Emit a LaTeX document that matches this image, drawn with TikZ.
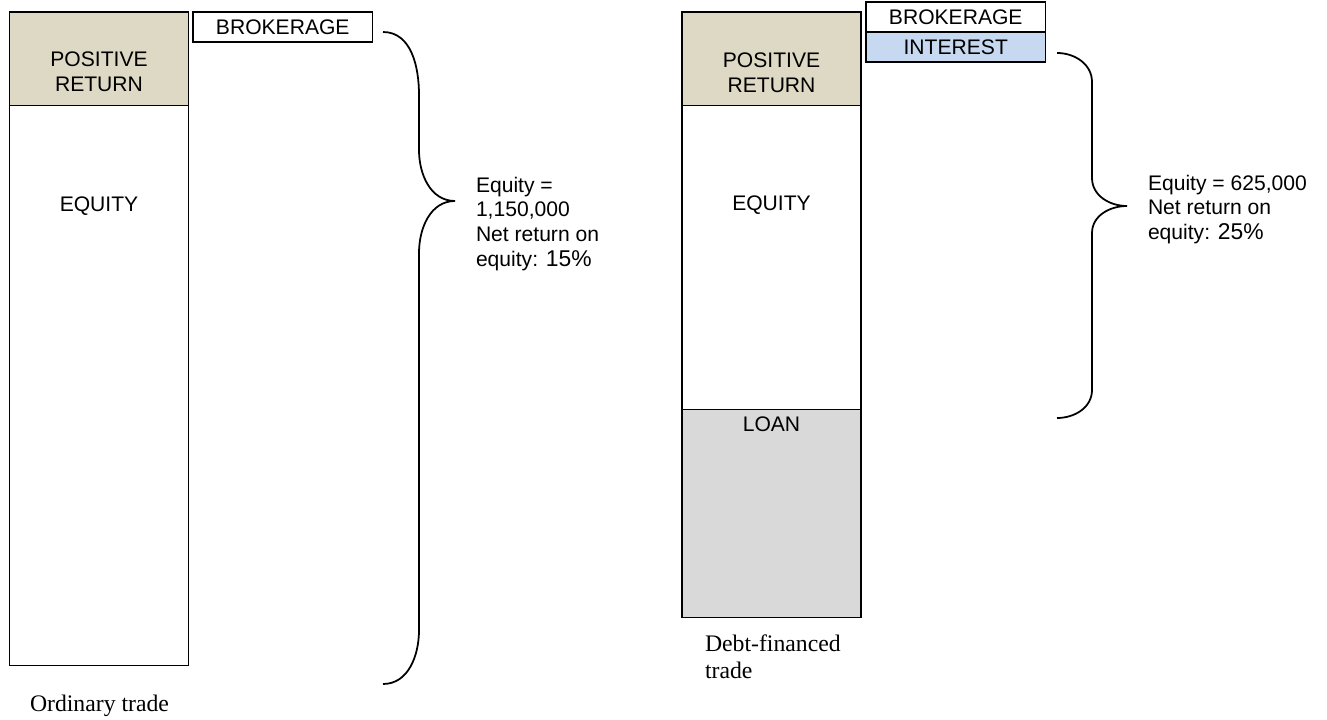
\documentclass[tikz,border=0pt]{standalone}
\usepackage{fontspec}
\setmainfont{Liberation Sans}
\newfontfamily\captionfont{Liberation Serif}
\usepackage{tikz}
\usetikzlibrary{positioning}
\definecolor{retfill}{RGB}{221,217,196}
\definecolor{intfill}{RGB}{198,217,241}
\definecolor{loanfill}{RGB}{217,217,217}
\tikzset{
  tradepic/.style={
    inner sep=0pt
    ,outer sep=0pt
    ,line width=1pt
    ,font=\fontsize{12}{14}\selectfont
  }
  ,block/.style={draw=black, minimum width=3.58cm, anchor=north}
  ,posret/.style={block, fill=retfill, minimum height=1.87cm}
  ,equity/.style={block, fill=white}
  ,loan/.style={block, fill=loanfill}
  ,costbox/.style={draw=black, fill=white, minimum width=3.59cm, minimum height=0.6cm}
  ,interest/.style={costbox, fill=intfill}
  ,boxtext/.style={anchor=north, align=center}
  ,notetext/.style={anchor=north west, align=left}
  ,caption/.style={
    anchor=north west
    ,align=left
    ,font=\captionfont\fontsize{13.5}{15.5}\selectfont
  }
  ,brace/.style={line width=1pt}
}
\newcommand{\pct}[1]{{\fontsize{13}{14}\selectfont #1\%}}

\begin{document}
\begin{tikzpicture}[tradepic]
  \useasboundingbox (0,0) rectangle (26.54,-14.38);

  % ordinary trade
  \node[posret, anchor=north west] (lpos) at (0.19,-0.24) {};
  \node[equity, below=0pt of lpos, minimum height=11.2cm] (leq) {};
  \node[costbox, below right=0cm and 0.09cm of lpos.north east] (lbrok) {BROKERAGE};
  \node[boxtext, below=0.8cm of lpos.north] (lpostext) {POSITIVE\\RETURN};
  \node[boxtext, below=1.82cm of leq.north] (leqtext) {EQUITY};
  \node[caption, below right=0.6cm and 0.41cm of leq.south west] (lcap) {Ordinary trade};

  \coordinate (ltip) at (9.1,-4.02);
  \draw[brace] (7.66,-0.64) to[out=0,in=90] (8.38,-1.9) -- (8.38,-3.0)
    to[out=-90,in=180] (ltip) to[out=180,in=90] (8.38,-5.06)
    -- (8.38,-12.6) to[out=-90,in=0] (7.66,-13.68);
  \node[notetext] (lnote) at (9.52,-3.54)
    {Equity =\\1,150,000\\Net return on\\equity: \pct{15}};

  % debt-financed trade
  \node[posret, anchor=north west] (rpos) at (13.64,-0.24) {};
  \node[equity, below=0pt of rpos, minimum height=6.08cm] (req) {};
  \node[loan, below=0pt of req, minimum height=4.16cm] (rloan) {};
  \node[interest, below right=0.4cm and 0.1cm of rpos.north east] (rint) {INTEREST};
  \node[costbox, above=0pt of rint] (rbrok) {BROKERAGE};
  \node[boxtext, below=0.82cm of rpos.north] (rpostext) {POSITIVE\\RETURN};
  \node[boxtext, below=1.8cm of req.north] (reqtext) {EQUITY};
  \node[boxtext, below=0.14cm of rloan.north] (rloantext) {LOAN};
  \node[caption, below right=0.34cm and 0.46cm of rloan.south west] (rcap) {Debt-financed\\trade};

  \coordinate (rtip) at (22.54,-4.12);
  \draw[brace] (21.14,-1.06) to[out=0,in=90] (21.84,-1.64) -- (21.84,-3.56)
    to[out=-90,in=180] (rtip) to[out=180,in=90] (21.84,-4.66)
    -- (21.84,-7.8) to[out=-90,in=0] (21.14,-8.36);
  \node[notetext] (rnote) at (22.96,-3.5)
    {Equity = 625,000\\Net return on\\equity: \pct{25}};
\end{tikzpicture}
\end{document}
